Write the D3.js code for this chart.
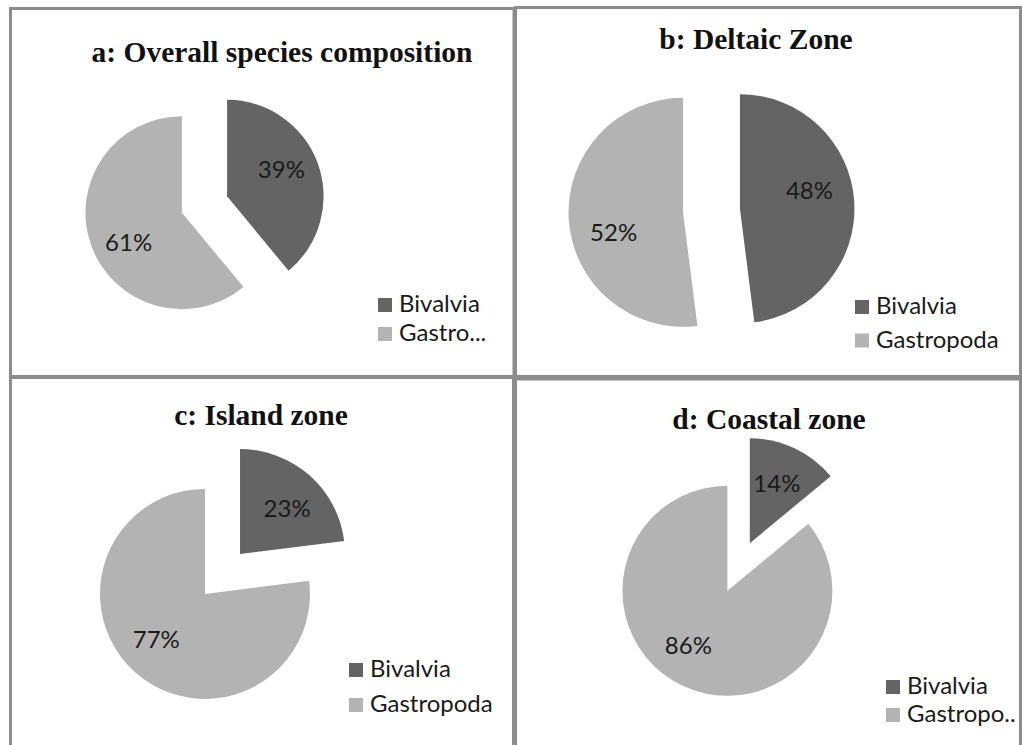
<!DOCTYPE html>
<html>
<head>
<meta charset="utf-8">
<script src="https://cdn.jsdelivr.net/npm/d3@7"></script>
<style>
  html, body { margin: 0; padding: 0; background: #fff; }
  svg { display: block; }
</style>
</head>
<body>
<svg id="chart" width="1022" height="745"></svg>
<script>
// ---- data ----
const panelTitles = ["a: Overall species composition", "b: Deltaic Zone", "c: Island zone", "d: Coastal zone"];
const categories = ["Bivalvia", "Gastropoda"];
const bivalviaPct = [39, 48, 23, 14];
const gastropodaPct = [61, 52, 77, 86];
const legendLabels = [
  ["Bivalvia", "Gastro..."],
  ["Bivalvia", "Gastropoda"],
  ["Bivalvia", "Gastropoda"],
  ["Bivalvia", "Gastropo.."]
];

// ---- layout (positions / styles) ----
const layout = [
  { frame: [10.5, 8.5, 503.5, 368], title: [282, 62], center: [204.5, 204.5], r: 96.5, explode: 24,
    labelRot: [-7, -9], legend: [378, 298, 29] },
  { frame: [515.5, 7.5, 505, 369], title: [756, 49], center: [711.5, 210.5], r: 114.5, explode: 28.5,
    labelRot: [-12, -12], legend: [855, 300, 33.5] },
  { frame: [10.5, 377.5, 503, 400], title: [261, 425], center: [222.5, 574], r: 105, explode: 26.5,
    labelRot: [4, 6], legend: [349, 663, 35] },
  { frame: [515.5, 379, 505, 400], title: [769, 429], center: [738.6, 567], r: 105, explode: 26.3,
    labelRot: [-1, 11], legend: [886, 680, 28] }
];
const labelFrac = 0.63;
const textFont = "Lato, 'Open Sans', sans-serif";

const color = d3.scaleOrdinal().domain(categories).range(["#646464", "#b3b3b3"]);

const svg = d3.select("#chart");
svg.append("rect").attr("width", 1022).attr("height", 745).attr("fill", "#fff");

const pie = d3.pie().sort(null).value(d => d.value).startAngle(0).endAngle(2 * Math.PI);

panelTitles.forEach((title, i) => {
  const L = layout[i];
  const g = svg.append("g");

  // frame
  g.append("rect")
    .attr("x", L.frame[0]).attr("y", L.frame[1])
    .attr("width", L.frame[2]).attr("height", L.frame[3])
    .attr("fill", "none").attr("stroke", "#8c8c8c").attr("stroke-width", 3);

  // title
  g.append("text")
    .attr("x", L.title[0]).attr("y", L.title[1])
    .attr("text-anchor", "middle")
    .attr("font-family", "'Liberation Serif', 'Times New Roman', serif")
    .attr("font-weight", "bold")
    .attr("font-size", 29.5)
    .attr("fill", "#111")
    .text(title);

  const data = [
    { cat: categories[0], value: bivalviaPct[i] },
    { cat: categories[1], value: gastropodaPct[i] }
  ];
  const arcs = pie(data);
  const arc = d3.arc().innerRadius(0).outerRadius(L.r);

  const pg = g.append("g").attr("transform", `translate(${L.center[0]},${L.center[1]})`);
  arcs.forEach((a, k) => {
    const mid = (a.startAngle + a.endAngle) / 2;
    const ox = L.explode * Math.sin(mid), oy = -L.explode * Math.cos(mid);
    const sg = pg.append("g").attr("transform", `translate(${ox},${oy})`);
    sg.append("path").attr("d", arc(a)).attr("fill", color(a.data.cat));
    const la = mid + L.labelRot[k] * Math.PI / 180;
    const lr = labelFrac * L.r;
    sg.append("text")
      .attr("x", lr * Math.sin(la)).attr("y", -lr * Math.cos(la))
      .attr("text-anchor", "middle")
      .attr("dominant-baseline", "central")
      .attr("font-family", textFont)
      .attr("font-size", 24)
      .attr("fill", "#1a1a1a")
      .text(a.data.value + "%");
  });

  // legend
  const lg = g.append("g");
  categories.forEach((c, k) => {
    const y = L.legend[1] + k * L.legend[2];
    lg.append("rect")
      .attr("x", L.legend[0]).attr("y", y)
      .attr("width", 14).attr("height", 14)
      .attr("fill", color(c));
    lg.append("text")
      .attr("x", L.legend[0] + 21).attr("y", y + 14)
      .attr("font-family", textFont)
      .attr("font-size", 24)
      .attr("fill", "#1a1a1a")
      .text(legendLabels[i][k]);
  });
});
</script>
</body>
</html>
